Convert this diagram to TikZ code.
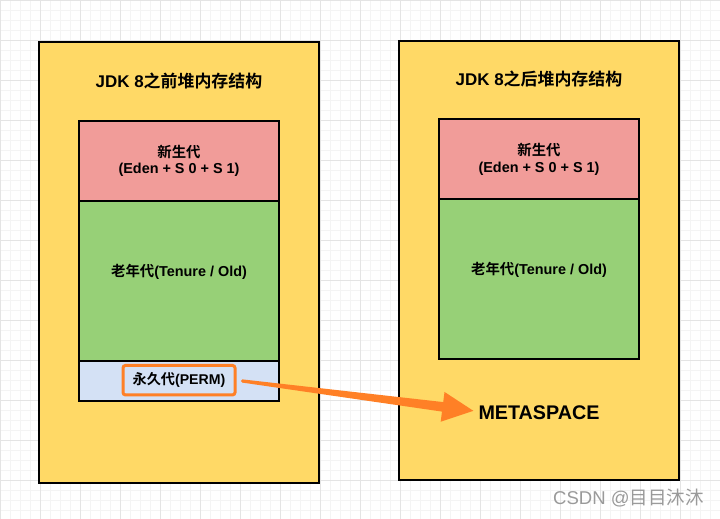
\documentclass[tikz,border=0pt]{standalone}
\usepackage{fontspec}
\setmainfont{Liberation Sans}
\newfontfamily\cjk{Noto Sans CJK SC}[BoldFont={Noto Sans CJK SC Bold}]
\usetikzlibrary{calc}
\definecolor{heapyellow}{HTML}{FFD966}
\definecolor{younpink}{HTML}{F19C99}
\definecolor{oldgreen}{HTML}{97D077}
\definecolor{permblue}{HTML}{D4E1F5}
\definecolor{arroworange}{RGB}{255,128,38}
\definecolor{minorgridc}{HTML}{F4F4F4}
\definecolor{majorgridc}{HTML}{E4E4E4}
\definecolor{wmgray}{HTML}{9A9A9A}
\begin{document}
\begin{tikzpicture}[x=1bp,y=-1bp,
  minorgrid/.style={draw=minorgridc, line width=0.8bp},
  majorgrid/.style={draw=majorgridc, line width=0.9bp},
  outerbox/.style={draw=black, fill=heapyellow, line width=2bp, minimum width=280bp, inner sep=0pt},
  innerbox/.style={draw=black, line width=1.8bp, minimum width=200bp, inner sep=0pt},
  titletext/.style={font=\fontsize{17pt}{20pt}\selectfont\bfseries, inner sep=0pt},
  boxtext/.style={font=\fontsize{14.45pt}{16.5pt}\selectfont\bfseries, align=center, inner sep=0pt},
  permbox/.style={draw=arroworange, fill=permblue, line width=3bp, rounded corners=2.5bp, minimum width=112bp, minimum height=29.5bp, inner sep=0pt, font=\fontsize{14.2pt}{16pt}\selectfont\bfseries},
  metatext/.style={font=\fontsize{19.8pt}{22pt}\selectfont\bfseries, inner sep=0pt},
  wmtext/.style={font=\fontsize{18.6pt}{21pt}\selectfont, text=wmgray, inner sep=0pt}
]
\useasboundingbox (0,0) rectangle (720,519);
\fill[white] (0,0) rectangle (720,519);
\foreach \i in {0,10,...,720} \draw[minorgrid] (\i,0) -- (\i,519);
\foreach \j in {0,10,...,510} \draw[minorgrid] (0,\j) -- (720,\j);
\foreach \i in {0,40,...,720} \draw[majorgrid] (\i,0) -- (\i,519);
\foreach \j in {0,40,...,480} \draw[majorgrid] (0,\j) -- (720,\j);

% left heap
\node[outerbox, minimum height=441bp] (L) at (179,262.5) {};
\node[titletext] (Lt) at (179,81) {JDK 8{\cjk 之前堆内存结构}};
\node[innerbox, fill=oldgreen, minimum height=160bp] (Lold) at (179,281) {};
\node[innerbox, fill=younpink, minimum height=80bp] (Lyoung) at (179,161) {};
\node[innerbox, fill=permblue, minimum height=40bp] (Lperm) at (179,381) {};
\node[boxtext] (Lyt) at (179,161) {{\cjk 新生代}\\(Eden + S 0 + S 1)};
\node[boxtext] (Lot) at (179,272) {{\cjk 老年代}(Tenure / Old)};
\node[permbox] (perm) at (179,380.2) {{\cjk 永久代}(PERM)};

% right heap
\node[outerbox, minimum height=439bp] (R) at (539,260.5) {};
\node[titletext] (Rt) at (539,78.5) {JDK 8{\cjk 之后堆内存结构}};
\node[innerbox, fill=oldgreen, minimum height=160bp] (Rold) at (539,279) {};
\node[innerbox, fill=younpink, minimum height=80bp] (Ryoung) at (539,159) {};
\node[boxtext] (Ryt) at (539,159.5) {{\cjk 新生代}\\(Eden + S 0 + S 1)};
\node[boxtext] (Rot) at (539,270) {{\cjk 老年代}(Tenure / Old)};
\node[metatext] (meta) at (539,412.3) {METASPACE};

% tapered arrow from PERM to METASPACE
\coordinate (as) at ($(perm.east)+(6,0.8)$);
\coordinate (at) at ($(meta.west)+(-5,-1.5)$);
\coordinate (hb) at ($(at)!31bp!(as)$);
\fill[arroworange] ($(as)!1.6bp!90:(at)$) -- ($(hb)!4.8bp!90:(at)$) -- ($(hb)!15bp!90:(at)$) -- (at)
  -- ($(hb)!15bp!-90:(at)$) -- ($(hb)!4.8bp!-90:(at)$) -- ($(as)!1.6bp!-90:(at)$) -- cycle;
\fill[arroworange] (as) circle[radius=1.6bp];

\node[wmtext] (wm) at (628.5,498.5) {CSDN @{\cjk 目目沐沐}};
\end{tikzpicture}
\end{document}
